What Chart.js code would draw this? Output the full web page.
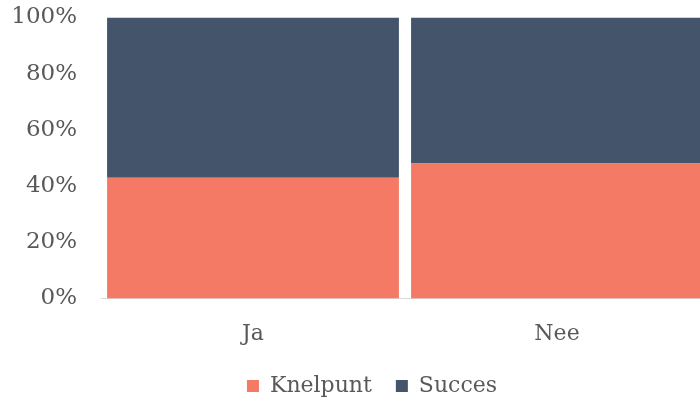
<!DOCTYPE html>
<html>
<head>
<meta charset="utf-8">
<script src="https://cdn.jsdelivr.net/npm/chart.js@4/dist/chart.umd.min.js"></script>
<style>
  html, body { margin: 0; padding: 0; background: #fff; overflow: hidden; width: 700px; height: 401px; }
  canvas { display: block; }
</style>
</head>
<body>
<canvas id="myChart" width="744" height="401"></canvas>
<script>
// categories and series (percent of answers)
const categories = ['Ja', 'Nee'];
const knelpunt = [43, 48];
const succes = [57, 52];
const yTicks = [0, 20, 40, 60, 80, 100];

const textColor = '#595959';
const fontFamily = '"DejaVu Serif", serif';

// the legend sits a bit right of the middle in the original
const legendShift = {
    id: 'legendShift',
    afterLayout: function(chart) {
        chart.legend.left += 17.5;
        chart.legend.right += 17.5;
    }
};

var ctx = document.getElementById('myChart').getContext('2d');
var myChart = new Chart(ctx, {
    type: 'bar',
    data: {
        labels: categories,
        datasets: [{
            label: 'Knelpunt',
            data: knelpunt,
            backgroundColor: '#F47A66',
            barPercentage: 0.96,
            categoryPercentage: 1
        }, {
            label: 'Succes',
            data: succes,
            backgroundColor: '#44546A',
            barPercentage: 0.96,
            categoryPercentage: 1
        }]
    },
    plugins: [legendShift],
    options: {
        responsive: false,
        devicePixelRatio: 1,
        animation: false,
        layout: {
            // the plot runs a little past the right edge of the picture
            padding: { top: 0, right: 35, left: 0, bottom: -6 }
        },
        plugins: {
            tooltip: { enabled: false },
            legend: {
                position: 'bottom',
                labels: {
                    boxWidth: 12,
                    boxHeight: 12,
                    padding: 24,
                    color: textColor,
                    font: { family: fontFamily, size: 22 }
                }
            }
        },
        scales: {
            x: {
                stacked: true,
                afterFit: function(scale) { scale.height = 52.5; },
                grid: { display: false, drawTicks: false },
                border: { display: true, color: '#d9d9d9', width: 1 },
                ticks: {
                    color: textColor,
                    padding: 23,
                    font: { family: fontFamily, size: 22 }
                }
            },
            y: {
                stacked: true,
                min: 0,
                max: 100,
                afterFit: function(scale) {
                    scale.width = 101;
                    scale.paddingTop = 17.5;
                    scale.paddingBottom = 0;
                },
                afterBuildTicks: function(scale) {
                    scale.ticks = yTicks.map(v => ({ value: v }));
                },
                grid: { display: false, drawTicks: false },
                border: { display: false },
                ticks: {
                    color: textColor,
                    padding: 24,
                    font: { family: fontFamily, size: 23 },
                    callback: v => v + '%'
                }
            }
        }
    }
});
</script>
</body>
</html>
